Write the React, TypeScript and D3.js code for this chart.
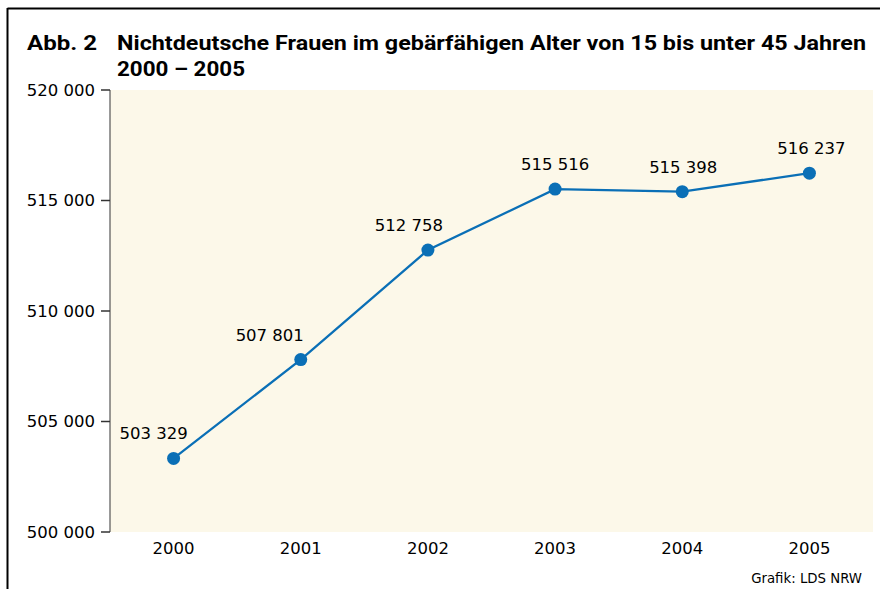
import React from "react";
import * as d3 from "d3";

const years = ["2000", "2001", "2002", "2003", "2004", "2005"];
const values = [503329, 507801, 512758, 515516, 515398, 516237];
const labelShift = [-20, -31, -19, 0, 1, 2];
const yTicks = [500000, 505000, 510000, 515000, 520000];
const titleA = "Abb. 2";
const titleLine1 = "Nichtdeutsche Frauen im gebärfähigen Alter von 15 bis unter 45 Jahren";
const titleLine2 = "2000 – 2005";
const source = "Grafik: LDS NRW";

const fmt = (v: number) => d3.format(",")(v).replace(/,/g, " ");

export default function App() {
  const W = 880, H = 589;
  const left = 110, right = 873, top = 90, bottom = 532;
  const x = d3.scaleBand<string>().domain(years).range([left, right]).padding(0);
  const y = d3.scaleLinear().domain([500000, 520000]).range([bottom, top]);
  const cx = (i: number) => (x(years[i]) as number) + x.bandwidth() / 2;
  const line = d3.line<number>().x((_, i) => cx(i)).y((d) => y(d));
  const font = "'DejaVu Sans', sans-serif";
  const tfont = "Roboto, 'Open Sans', sans-serif";
  return (
    <svg width={W} height={H} style={{ position: "absolute", left: 0, top: 0 }}>
      <rect x={0} y={0} width={W} height={H} fill="#fff" />
      <line x1={7.5} y1={8.5} x2={W} y2={8.5} stroke="#000" strokeWidth={2} />
      <line x1={7.5} y1={8} x2={7.5} y2={H} stroke="#000" strokeWidth={2} />
      <text x={27} y={50} fontFamily={tfont} fontWeight={700} fontSize={21} fill="#000" textLength={70} lengthAdjust="spacingAndGlyphs">{titleA}</text>
      <text x={117} y={50} fontFamily={tfont} fontWeight={700} fontSize={21} fill="#000" textLength={749} lengthAdjust="spacingAndGlyphs">{titleLine1}</text>
      <text x={117} y={75.5} fontFamily={tfont} fontWeight={700} fontSize={21} fill="#000" textLength={128} lengthAdjust="spacingAndGlyphs">{titleLine2}</text>
      <rect x={left} y={top} width={right - left} height={bottom - top} fill="#fcf8e9" />
      <line x1={left} y1={top} x2={left} y2={bottom} stroke="#555" strokeWidth={1.2} />
      {yTicks.map((t) => (
        <g key={t}>
          <line x1={left - 9} x2={left} y1={y(t)} y2={y(t)} stroke="#333" strokeWidth={1.5} />
          <text x={left - 15} y={y(t)} dy="0.35em" textAnchor="end" fontFamily={font} fontSize={16.5} fill="#000">{fmt(t)}</text>
        </g>
      ))}
      {years.map((yr, i) => (
        <text key={yr} x={cx(i)} y={554} textAnchor="middle" fontFamily={font} fontSize={16.5} fill="#000">{yr}</text>
      ))}
      <path d={line(values) as string} fill="none" stroke="#0a6fb6" strokeWidth={2.3} />
      {values.map((v, i) => (
        <g key={i}>
          <circle cx={cx(i)} cy={y(v)} r={6.5} fill="#0a6fb6" />
          <text x={cx(i) + labelShift[i]} y={y(v) - 19} textAnchor="middle" fontFamily={font} fontSize={16.5} fill="#000">{fmt(v)}</text>
        </g>
      ))}
      <text x={862} y={583} textAnchor="end" fontFamily={font} fontSize={13.3} fill="#000">{source}</text>
    </svg>
  );
}
